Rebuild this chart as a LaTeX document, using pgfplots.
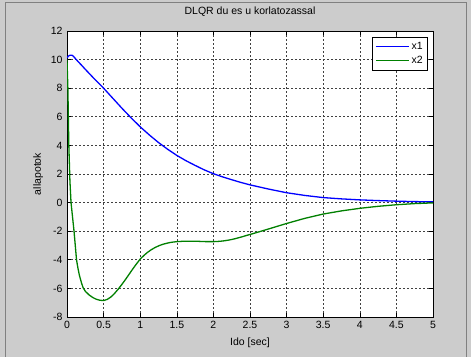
\documentclass[border=0pt]{standalone}
\usepackage{fontspec}
\setmainfont{Liberation Sans}
\usepackage{pgfplots}
\pgfplotsset{compat=1.18}
\definecolor{figgray}{RGB}{204,204,204}
\definecolor{framegray}{RGB}{128,128,128}
\definecolor{mlgreen}{RGB}{0,128,0}
\definecolor{mlblue}{RGB}{0,0,255}
\begin{document}
\begin{tikzpicture}[x=1pt,y=1pt]
\fill[figgray] (0,0) rectangle (471,357);
\draw[framegray, line width=1pt] (5,0) -- (5,354) -- (466,354) -- (466,0);
\useasboundingbox (0,0) rectangle (471,357);
\begin{axis}[
  at={(67pt,40pt)}, anchor=south west,
  scale only axis, width=366pt, height=286pt,
  xmin=0, xmax=5, ymin=-8, ymax=12,
  xtick={0,0.5,1,1.5,2,2.5,3,3.5,4,4.5,5},
  ytick={-8,-6,-4,-2,0,2,4,6,8,10,12},
  /pgf/number format/assume math mode=true,
  /pgf/number format/fixed,
  tick label style={font=\fontsize{10.5}{12}\selectfont},
  xticklabel style={yshift=-1pt},
  yticklabel style={xshift=-1pt},
  axis background/.style={fill=white},
  axis line style={line width=0.8pt},
  tick align=inside, major tick length=4pt,
  tick style={black, line width=0.6pt},
  grid=major,
  major grid style={dash pattern=on 2pt off 2pt, black!75, line width=0.6pt},
  title={DLQR du es u korlatozassal},
  title style={at={(axis description cs:0.5,1.045)}, anchor=center, font=\fontsize{10.5}{12}\selectfont},
  xlabel={Ido [sec]},
  xlabel style={at={(axis description cs:0.5,-0.091)}, anchor=center, font=\fontsize{10.5}{12}\selectfont},
  ylabel={allapotok},
  ylabel style={at={(axis description cs:-0.079,0.5)}, anchor=center, font=\fontsize{10.5}{12}\selectfont},
  legend style={at={(1,1)}, anchor=north east, xshift=-5pt, yshift=-6pt,
    draw=black, line width=0.6pt, fill=white, font=\fontsize{10.5}{12}\selectfont,
    inner sep=3pt, row sep=1pt},
  legend cell align=left,
  legend image code/.code={\draw[#1, line width=1.3pt] (0cm,0cm) -- (33pt,0cm);},
]
\addplot[mlblue, line width=1.3pt] coordinates {
(0,10.12) (0.02,10.25) (0.04,10.3) (0.07,10.3) (0.09,10.22) (0.11,10.1) (0.15,9.87) (0.2,9.6) (0.25,9.32) (0.3,9.05) (0.35,8.78) (0.4,8.52) (0.5,8.0) (0.6,7.44) (0.75,6.6) (0.875,5.93) (1,5.3) (1.125,4.73) (1.25,4.2) (1.375,3.73) (1.5,3.3) (1.625,2.93) (1.75,2.6) (1.875,2.29) (2,2.02) (2.125,1.8) (2.25,1.6) (2.375,1.41) (2.5,1.24) (2.75,0.95) (3,0.69) (3.25,0.5) (3.5,0.35) (3.75,0.26) (4,0.19) (4.25,0.14) (4.5,0.1) (4.75,0.07) (5,0.05)
};
\addlegendentry{x1}
\addplot[mlgreen, line width=1.3pt] coordinates {
(0,10) (0.012,8) (0.025,4) (0.04,1.5) (0.055,0) (0.096,-2) (0.13,-4) (0.15,-4.6) (0.17,-5.1) (0.2,-5.65) (0.22,-5.95) (0.25,-6.2) (0.3,-6.45) (0.35,-6.63) (0.4,-6.76) (0.45,-6.83) (0.5,-6.85) (0.55,-6.77) (0.6,-6.6) (0.65,-6.35) (0.7,-6.05) (0.75,-5.72) (0.8,-5.37) (0.85,-5.0) (0.9,-4.63) (0.95,-4.28) (1.0,-3.95) (1.05,-3.7) (1.1,-3.48) (1.15,-3.3) (1.2,-3.15) (1.25,-3.03) (1.3,-2.93) (1.35,-2.86) (1.4,-2.8) (1.45,-2.76) (1.5,-2.73) (1.6,-2.7) (1.7,-2.7) (1.8,-2.71) (1.9,-2.73) (2.0,-2.73) (2.05,-2.72) (2.1,-2.7) (2.15,-2.67) (2.2,-2.63) (2.25,-2.58) (2.3,-2.52) (2.35,-2.45) (2.4,-2.38) (2.45,-2.3) (2.5,-2.23) (2.6,-2.08) (2.75,-1.85) (3,-1.46) (3.25,-1.1) (3.5,-0.8) (3.75,-0.58) (4,-0.4) (4.25,-0.26) (4.5,-0.15) (4.75,-0.07) (5,-0.02)
};
\addlegendentry{x2}
\end{axis}
\end{tikzpicture}
\end{document}
